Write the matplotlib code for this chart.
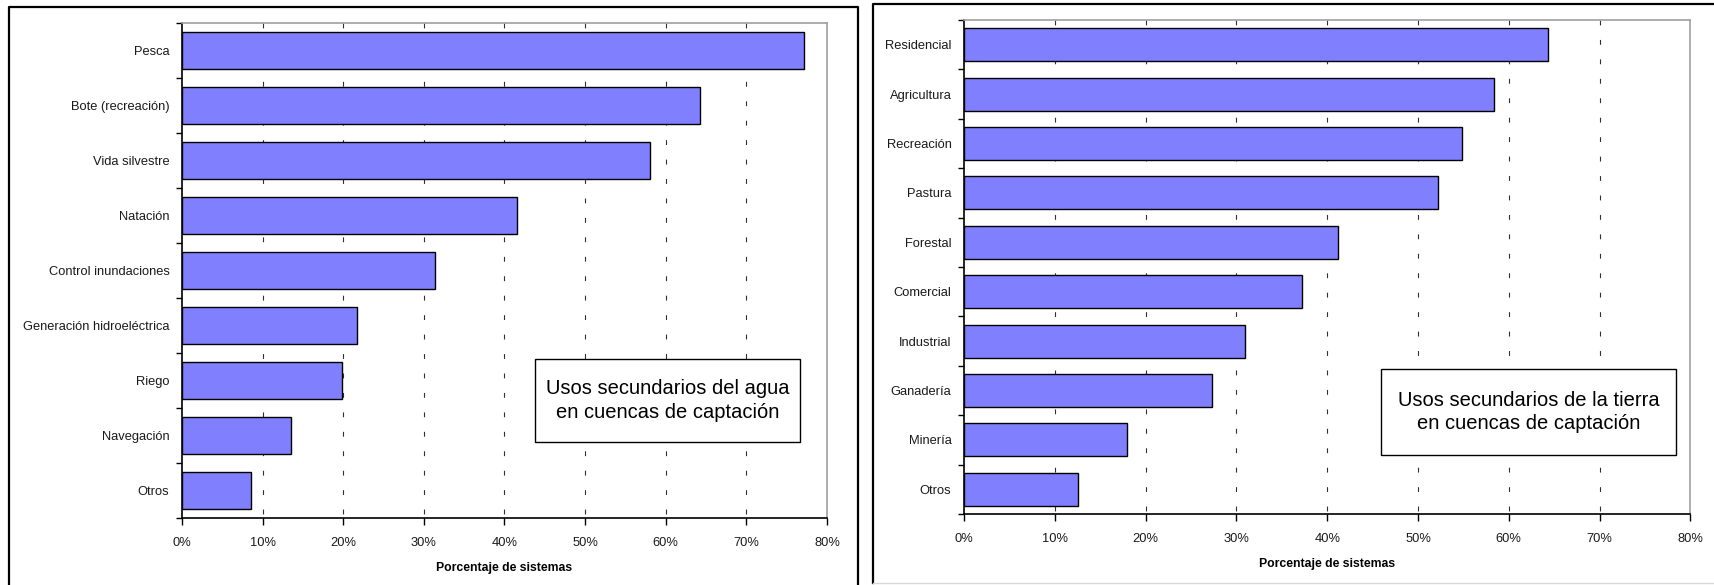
import matplotlib.pyplot as plt
from matplotlib.patches import Rectangle
from matplotlib.lines import Line2D
from matplotlib.ticker import FixedLocator, PercentFormatter

plt.rcParams['font.family'] = ['Liberation Sans', 'DejaVu Sans']
plt.rcParams['lines.scale_dashes'] = False

# datos: usos del agua
agua_cats = ['Pesca', 'Bote (recreación)', 'Vida silvestre', 'Natación',
             'Control inundaciones', 'Generación hidroeléctrica', 'Riego',
             'Navegación', 'Otros']
agua_vals = [77.1, 64.2, 58.0, 41.5, 31.4, 21.7, 19.9, 13.5, 8.5]

# datos: usos de la tierra
tierra_cats = ['Residencial', 'Agricultura', 'Recreación', 'Pastura', 'Forestal',
               'Comercial', 'Industrial', 'Ganadería', 'Minería', 'Otros']
tierra_vals = [64.3, 58.4, 54.8, 52.2, 41.2, 37.2, 30.9, 27.3, 18.0, 12.6]

x_ticks = [0, 10, 20, 30, 40, 50, 60, 70, 80]
xlabel = 'Porcentaje de sistemas'
titulo_agua = 'Usos secundarios del agua\nen cuencas de captación'
titulo_tierra = 'Usos secundarios de la tierra\nen cuencas de captación'

W, H = 1715, 585
fig = plt.figure(figsize=(W / 100, H / 100), dpi=100)


def px_axes(left, top, right, bottom):
    return fig.add_axes([left / W, 1 - bottom / H, (right - left) / W, (bottom - top) / H])


def panel(ax, cats, vals, titulo, box):
    n = len(cats)
    pos = list(range(n))
    # lineas de cuadricula punteadas, desde arriba
    ax.vlines(x_ticks[1:-1], -0.5, n - 0.5, colors='#303030', linewidth=0.8,
              linestyles=(0, (3.5, 10.5)), zorder=1)
    ax.barh(pos, vals, height=0.667, color='#8080FF', edgecolor='black',
            linewidth=1.0, zorder=2)
    ax.set_ylim(n - 0.5, -0.5)
    ax.set_xlim(0, 80)
    ax.set_yticks(pos)
    ax.set_yticklabels(cats, fontsize=9.3, color='#1a1a1a')
    ax.yaxis.set_minor_locator(FixedLocator([i - 0.5 for i in range(n + 1)]))
    ax.tick_params(axis='y', which='major', length=0, pad=9)
    ax.tick_params(axis='y', which='minor', length=4, width=1, direction='out')
    ax.set_xticks(x_ticks)
    ax.xaxis.set_major_formatter(PercentFormatter(decimals=0))
    ax.tick_params(axis='x', length=5, width=1, direction='out', labelsize=9.3,
                   pad=9, labelcolor='#1a1a1a')
    ax.set_xlabel(xlabel, fontsize=8.8, fontweight='bold', labelpad=9)
    for s in ['left', 'bottom']:
        ax.spines[s].set_color('black')
        ax.spines[s].set_linewidth(1.2)
    for s in ['top', 'right']:
        ax.spines[s].set_color('#a0a0a0')
        ax.spines[s].set_linewidth(1.2)
    x0, x1, y0, y1 = box
    ax.add_patch(Rectangle((x0, y0), x1 - x0, y1 - y0, transform=ax.transAxes,
                           facecolor='white', edgecolor='black', linewidth=1.0,
                           zorder=3))
    ax.text((x0 + x1) / 2, (y0 + y1) / 2, titulo, transform=ax.transAxes,
            ha='center', va='center', fontsize=14.5, linespacing=1.3, zorder=4)


ax1 = px_axes(182, 23.3, 827, 517.7)
panel(ax1, agua_cats, agua_vals, titulo_agua, (0.548, 0.958, 0.154, 0.321))

ax2 = px_axes(964, 20, 1690.4, 514)
panel(ax2, tierra_cats, tierra_vals, titulo_tierra, (0.574, 0.980, 0.119, 0.294))


def fig_line(xs, ys, color='black', lw=1.6):
    fig.add_artist(Line2D([x / W for x in xs], [1 - y / H for y in ys],
                          transform=fig.transFigure, color=color, linewidth=lw))


# marcos exteriores de cada grafico
fig_line([9.3, 9.3, 857.7, 857.7], [590, 7.3, 7.3, 590])
fig_line([872.7, 872.7, 1720], [583, 4, 4])
fig_line([872.7, 1720], [583, 583], color='#d8d8d8', lw=1.0)

fig.savefig('out.png', dpi=100)
